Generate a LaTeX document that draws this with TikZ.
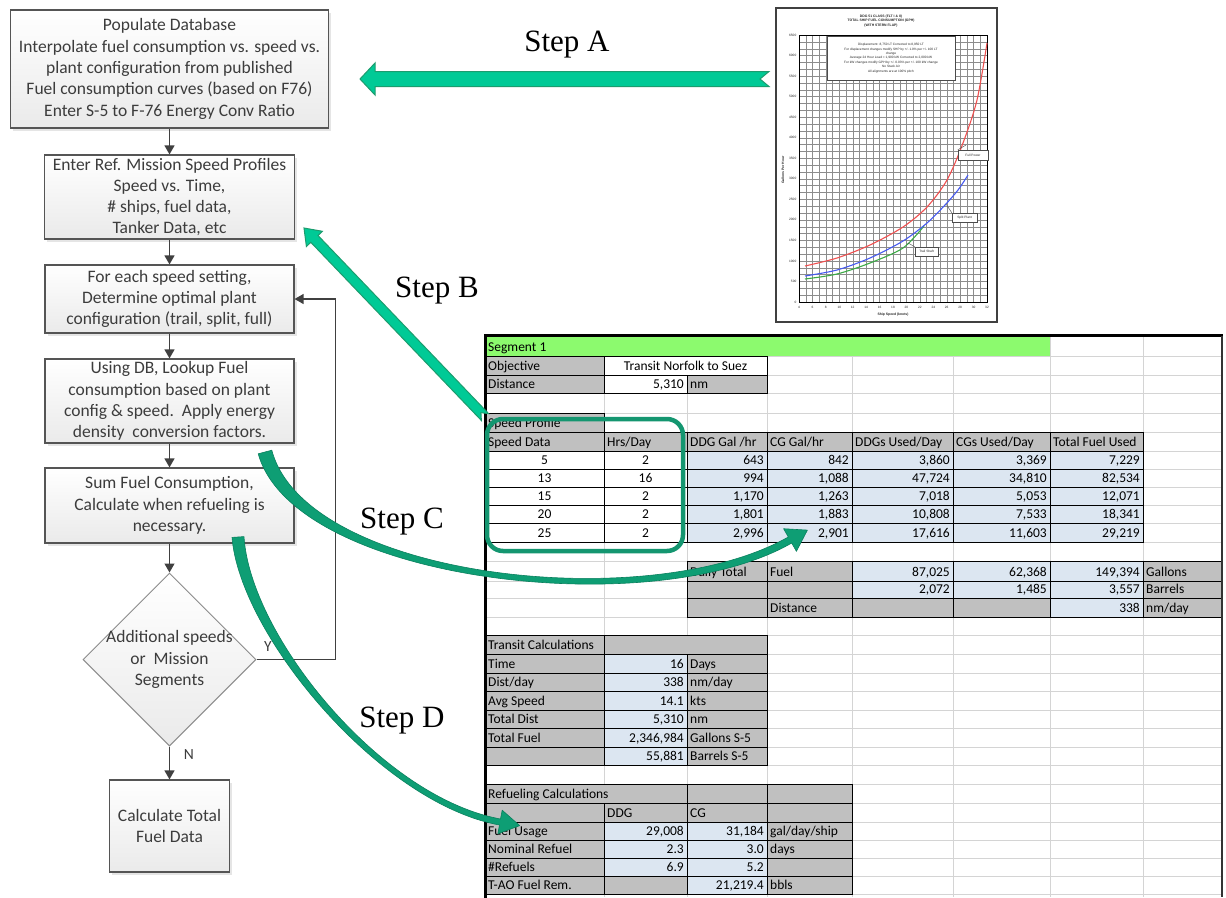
\documentclass[tikz,border=0pt]{standalone}
\usepackage{fontspec}
\setmainfont{Carlito}
\newfontfamily\stepserif{Liberation Serif}
\newfontfamily\chartsans{Liberation Sans}
\usetikzlibrary{arrows.meta,shapes.geometric,shadows}

\definecolor{boxedge}{RGB}{85,85,85}
\definecolor{boxtext}{RGB}{60,60,60}
\definecolor{boxbot}{RGB}{234,234,234}
\definecolor{flowline}{RGB}{64,64,64}
\definecolor{diamedge}{RGB}{140,140,140}
\definecolor{stepfill}{RGB}{0,202,150}
\definecolor{stepedge}{RGB}{28,156,110}
\definecolor{curvefill}{RGB}{14,158,116}
\definecolor{curveedge}{RGB}{10,128,94}
\definecolor{ringcol}{RGB}{20,150,112}
\definecolor{xlgrey}{RGB}{192,192,192}
\definecolor{xlblue}{RGB}{220,230,241}
\definecolor{xlgreen}{RGB}{140,250,110}
\definecolor{xlgrid}{RGB}{212,212,212}
\definecolor{fullred}{RGB}{240,80,80}
\definecolor{splitblue}{RGB}{70,90,240}
\definecolor{trailgreen}{RGB}{60,170,70}

\newcommand\flowfont{\fontsize{17.5}{21.3}\selectfont}
\newcommand\cellfont{\fontsize{13.5}{15}\selectfont}
\newcommand\stepfont{\stepserif\fontsize{31}{36}\selectfont}
\newcommand\charttiny{\chartsans\fontsize{3.2}{4.4}\selectfont}
\newcommand\chartbold{\chartsans\bfseries\fontsize{3.4}{4.6}\selectfont}

% column and row boundaries of the worksheet
\def\colx{{485,604,687,767,852,953,1050,1143,1222}}
\def\rowy{{335,356,375,393,413,432,451,469,487,505,523,542,561,581,598,617,635,654,673,691,710,728,747,765,784,803,822,840,858,876,894}}

% \xcell{name}{first col}{end col}{row}{fill}{l|c|r}{text}
\newcommand\xcell[7]{%
  \pgfmathsetmacro\cxa{\colx[#2]}%
  \pgfmathsetmacro\cxb{\colx[#3]}%
  \pgfmathsetmacro\cya{\rowy[#4-1]}%
  \pgfmathsetmacro\cyb{\rowy[#4]}%
  \filldraw[cellrule,fill=#5] (\cxa,\cya) rectangle (\cxb,\cyb);
  \if#6l\node[celltext,anchor=base west] (#1) at (\cxa+3,\cyb-4.6) {#7};\fi
  \if#6r\node[celltext,anchor=base east] (#1) at (\cxb-3,\cyb-4.6) {#7};\fi
  \if#6c\node[celltext,anchor=base] (#1) at ({(\cxa+\cxb)/2},\cyb-4.6) {#7};\fi
}

\tikzset{
  fbox/.style={draw=boxedge, line width=1.2pt, top color=white, bottom color=boxbot,
    text=boxtext, align=center, inner sep=0pt, font=\flowfont,
    drop shadow={shadow xshift=2.5pt, shadow yshift=-2.5pt, opacity=.2, fill=black!50}},
  flowarrow/.style={draw=flowline, line width=1.3pt, -{Triangle[width=10pt,length=9pt]}},
  flowlabel/.style={text=boxtext, font=\fontsize{15.5}{18}\selectfont, inner sep=0pt},
  celltext/.style={font=\cellfont, inner sep=0pt, text=black},
  cellrule/.style={draw=black, line width=0.8pt},
  gridrule/.style={draw=xlgrid, line width=0.9pt},
  chartgrid/.style={draw=black!45, line width=0.3pt},
  charttext/.style={font=\charttiny, inner sep=0.5pt, text=black!85},
  chartbox/.style={draw=black!70, line width=0.4pt, fill=white, charttext},
  steplabel/.style={font=\stepfont, text=black, inner sep=0pt},
  stepblock/.style={fill=stepfill, draw=stepedge, line width=1pt, line join=miter},
  stepcurve/.style={fill=curvefill, draw=curveedge, line width=0.6pt, line join=round},
}

\begin{document}
\begin{tikzpicture}[x=1pt,y=-1pt]
\useasboundingbox[fill=white] (0,0) rectangle (1226,897);

% ---------------- worksheet ----------------
\foreach \i in {0,...,8}{\pgfmathsetmacro\gx{\colx[\i]}\draw[gridrule] (\gx,335) -- (\gx,897);}
\foreach \i in {0,...,30}{\pgfmathsetmacro\gy{\rowy[\i]}\draw[gridrule] (485,\gy) -- (1222,\gy);}

\fill[xlgreen] (485,335) rectangle (1050,356);
\node[celltext,anchor=base west] (seg) at (488,351.4) {Segment 1};

\xcell{objl}{0}{1}{2}{xlgrey}{l}{Objective}
\xcell{objv}{1}{3}{2}{white}{c}{Transit Norfolk to Suez}
\xcell{distl}{0}{1}{3}{xlgrey}{l}{Distance}
\xcell{distv}{1}{2}{3}{white}{r}{5,310}
\xcell{distu}{2}{3}{3}{xlgrey}{l}{nm}

\xcell{sprof}{0}{1}{5}{xlgrey}{l}{Speed Profile}
\xcell{hA}{0}{1}{6}{xlgrey}{l}{Speed Data}
\xcell{hB}{1}{2}{6}{xlgrey}{l}{Hrs/Day}
\xcell{hC}{2}{3}{6}{xlgrey}{l}{DDG Gal /hr}
\xcell{hD}{3}{4}{6}{xlgrey}{l}{CG Gal/hr}
\xcell{hE}{4}{5}{6}{xlgrey}{l}{DDGs Used/Day}
\xcell{hF}{5}{6}{6}{xlgrey}{l}{CGs Used/Day}
\xcell{hG}{6}{7}{6}{xlgrey}{l}{Total Fuel Used}
\foreach \rr/\va/\vb/\vc/\vd/\ve/\vf/\vg in {
   7/5/2/643/842/{3,860}/{3,369}/{7,229},
   8/13/16/994/{1,088}/{47,724}/{34,810}/{82,534},
   9/15/2/{1,170}/{1,263}/{7,018}/{5,053}/{12,071},
   10/20/2/{1,801}/{1,883}/{10,808}/{7,533}/{18,341},
   11/25/2/{2,996}/{2,901}/{17,616}/{11,603}/{29,219}}{
  \xcell{spd\rr}{0}{1}{\rr}{white}{c}{\va}
  \xcell{hrs\rr}{1}{2}{\rr}{white}{c}{\vb}
  \xcell{ddg\rr}{2}{3}{\rr}{xlblue}{r}{\vc}
  \xcell{cg\rr}{3}{4}{\rr}{xlblue}{r}{\vd}
  \xcell{ddgu\rr}{4}{5}{\rr}{xlblue}{r}{\ve}
  \xcell{cgu\rr}{5}{6}{\rr}{xlblue}{r}{\vf}
  \xcell{tot\rr}{6}{7}{\rr}{xlblue}{r}{\vg}
}

\xcell{dtA}{2}{3}{13}{xlgrey}{l}{Daily Total}
\xcell{dtB}{3}{4}{13}{xlgrey}{l}{Fuel}
\xcell{dtC}{4}{5}{13}{xlblue}{r}{87,025}
\xcell{dtD}{5}{6}{13}{xlblue}{r}{62,368}
\xcell{dtE}{6}{7}{13}{xlblue}{r}{149,394}
\xcell{dtF}{7}{8}{13}{xlgrey}{l}{Gallons}
\xcell{dbA}{2}{3}{14}{xlgrey}{l}{}
\xcell{dbB}{3}{4}{14}{xlgrey}{l}{}
\xcell{dbC}{4}{5}{14}{xlblue}{r}{2,072}
\xcell{dbD}{5}{6}{14}{xlblue}{r}{1,485}
\xcell{dbE}{6}{7}{14}{xlblue}{r}{3,557}
\xcell{dbF}{7}{8}{14}{xlgrey}{l}{Barrels}
\xcell{ddA}{2}{3}{15}{xlgrey}{l}{}
\xcell{ddB}{3}{4}{15}{xlgrey}{l}{Distance}
\xcell{ddC}{4}{5}{15}{xlgrey}{l}{}
\xcell{ddD}{5}{6}{15}{xlgrey}{l}{}
\xcell{ddE}{6}{7}{15}{xlblue}{r}{338}
\xcell{ddF}{7}{8}{15}{xlgrey}{l}{nm/day}

\xcell{trA}{0}{1}{17}{xlgrey}{l}{Transit Calculations}
\xcell{trB}{1}{3}{17}{xlgrey}{l}{}
\foreach \rr/\va/\vb/\vc in {18/Time/16/Days, 19/Dist\slash day/338/nm\slash day,
   20/Avg Speed/14.1/kts, 21/Total Dist/{5,310}/nm, 22/Total Fuel/{2,346,984}/Gallons S-5,
   23//{55,881}/Barrels S-5}{
  \xcell{tl\rr}{0}{1}{\rr}{xlgrey}{l}{\va}
  \xcell{tv\rr}{1}{2}{\rr}{xlblue}{r}{\vb}
  \xcell{tu\rr}{2}{3}{\rr}{xlgrey}{l}{\vc}
}

\xcell{rfA}{0}{2}{25}{xlgrey}{l}{Refueling Calculations}
\xcell{rfC}{2}{3}{25}{xlgrey}{l}{}
\xcell{rfD}{3}{4}{25}{xlgrey}{l}{}
\xcell{rhA}{0}{1}{26}{xlgrey}{l}{}
\xcell{rhB}{1}{2}{26}{xlgrey}{l}{DDG}
\xcell{rhC}{2}{3}{26}{xlgrey}{l}{CG}
\xcell{rhD}{3}{4}{26}{xlgrey}{l}{}
\xcell{fuA}{0}{1}{27}{xlgrey}{l}{Fuel Usage}
\xcell{fuB}{1}{2}{27}{xlblue}{r}{29,008}
\xcell{fuC}{2}{3}{27}{xlblue}{r}{31,184}
\xcell{fuD}{3}{4}{27}{xlgrey}{l}{gal/day/ship}
\xcell{nrA}{0}{1}{28}{xlgrey}{l}{Nominal Refuel}
\xcell{nrB}{1}{2}{28}{xlblue}{r}{2.3}
\xcell{nrC}{2}{3}{28}{xlblue}{r}{3.0}
\xcell{nrD}{3}{4}{28}{xlgrey}{l}{days}
\xcell{nfA}{0}{1}{29}{xlgrey}{l}{\#Refuels}
\xcell{nfB}{1}{2}{29}{xlblue}{r}{6.9}
\xcell{nfC}{2}{3}{29}{xlblue}{r}{5.2}
\xcell{nfD}{3}{4}{29}{xlgrey}{l}{}
\xcell{taA}{0}{1}{30}{xlgrey}{l}{T-AO Fuel Rem.}
\xcell{taB}{1}{2}{30}{xlgrey}{l}{}
\xcell{taC}{2}{3}{30}{xlblue}{r}{21,219.4}
\xcell{taD}{3}{4}{30}{xlgrey}{l}{bbls}

% sheet frame
\draw[line width=2.6pt, black, line cap=rect] (485.5,897) -- (485.5,335.5) -- (1222,335.5);
\draw[line width=2pt, black!80] (1222,335.5) -- (1222,897);

% ring round the speed profile inputs
\draw[ringcol, line width=4.5pt, rounded corners=16pt] (487,419) rectangle (683,551);

% ---------------- fuel consumption chart ----------------
\draw[black!75, line width=1.6pt] (776,8) rectangle (997,322);
\foreach \k in {0,...,28} \draw[chartgrid] ({799+\k*188/28},35) -- ({799+\k*188/28},302);
\foreach \k in {0,...,39} \draw[chartgrid] (799,{302-\k*267/39}) -- (987,{302-\k*267/39});
\draw[black, line width=0.6pt] (799,35) rectangle (987,302);
\foreach \g in {0,500,...,6500}
  \node[charttext, anchor=east] (ytick\g) at (797,{302-\g*0.0410769}) {\g};
\foreach \v in {4,6,...,32}
  \node[charttext] (xtick\v) at ({799+(\v-4)*188/28},307.5) {\v};
\node[charttext, font=\chartbold] (xtitle) at (893,315) {Ship Speed (knots)};
\node[charttext, font=\chartbold, rotate=90] (ytitle) at (783,170) {Gallons Per Hour};
\node[charttext, font=\chartbold, align=center] (ctitle) at (881,21)
  {DDG 51 CLASS (FLT I \& II)\\TOTAL SHIP FUEL CONSUMPTION (GPH)\\(WITH STERN FLAP)};

\draw[trailgreen, line width=1.1pt] plot[smooth] coordinates
  {(805,279) (837,274) (870,263) (903,248) (924,226)};
\draw[splitblue, line width=1.1pt] plot[smooth] coordinates
  {(805,276) (837,270) (870,258) (903,241) (927,223) (945,205) (958,190) (968,175)};
\draw[fullred, line width=1.1pt] plot[smooth] coordinates
  {(805,266) (837,258) (870,245) (903,227) (927,207) (947,180) (963,143) (977,100) (987,43)};

\node[chartbox, align=center, minimum width=128pt, minimum height=44pt] (legend) at (891,58)
  {Displacement: 8,750 LT Corrected to 8,950 LT\\
   For displacement changes modify SHP by +/- 1.0\% per +/- 100 LT\\
   change\\
   Average 24 Hour Load = 1,900 kW Corrected to 2,000 kW\\
   For kW changes modify GPH by +/- 0.03\% per +/- 100 kW change\\
   No Stack Air\\
   All alignments are at 100\% pitch};
\node[chartbox, minimum width=30pt, minimum height=10pt] (fplab) at (973,155) {Full Power};
\node[chartbox, minimum width=25pt, minimum height=9pt] (splab) at (964.5,217.5) {Split Plant};
\node[chartbox, minimum width=23pt, minimum height=9pt] (tslab) at (926.5,251.5) {Trail Shaft};
\draw[black!70, line width=0.4pt] (fplab.north west) -- (966,145);
\draw[black!70, line width=0.4pt] (splab.north west) -- (946,204);
\draw[black!70, line width=0.4pt] (tslab.north west) -- (908,243);

% ---------------- flowchart ----------------
\node[fbox, minimum width=318pt, minimum height=118pt] (pop) at (169.5,69)
  {Populate Database\\Interpolate fuel consumption vs. speed vs.\\plant configuration from published\\Fuel consumption curves (based on F76)\\Enter S-5 to F-76 Energy Conv Ratio};
\node[fbox, minimum width=250pt, minimum height=84pt] (ref) at (169.5,197)
  {Enter Ref. Mission Speed Profiles\\Speed vs. Time,\\\# ships, fuel data,\\Tanker Data, etc};
\node[fbox, minimum width=249pt, minimum height=68pt] (setting) at (169.5,299)
  {For each speed setting,\\Determine optimal plant\\configuration (trail, split, full)};
\node[fbox, minimum width=249pt, minimum height=84pt] (lookup) at (169.5,401)
  {Using DB, Lookup Fuel\\consumption based on plant\\config \& speed.\ \ Apply energy\\density\ \ conversion factors.};
\node[fbox, minimum width=249pt, minimum height=75pt] (sumfuel) at (169.5,505.5)
  {Sum Fuel Consumption,\\Calculate when refueling is\\necessary.};
\node[diamond, aspect=1, draw=diamedge, line width=1pt, top color=white, bottom color=boxbot,
  minimum width=173pt, minimum height=173pt, inner sep=0pt] (more) at (169.5,659.5) {};
\node[text=boxtext, font=\flowfont, align=center, inner sep=0pt] (moretext) at (more.center)
  {Additional speeds\\or\ \ Mission\\Segments};
\node[fbox, minimum width=120pt, minimum height=92pt] (total) at (169.5,826)
  {Calculate Total\\Fuel Data};

\draw[flowarrow] (pop.south) -- (ref.north);
\draw[flowarrow] (ref.south) -- (setting.north);
\draw[flowarrow] (setting.south) -- (lookup.north);
\draw[flowarrow] (lookup.south) -- (sumfuel.north);
\draw[flowarrow] (sumfuel.south) -- (more.north);
\draw[flowarrow] (more.south) -- (total.north);
\draw[flowarrow] (more.east) -- ++(79,0) |- (setting.east);
\node[flowlabel] (nlab) at (189,755) {N};
\node[flowlabel] (ylab) at (268,647) {Y};

% ---------------- step arrows and labels ----------------
\coordinate (aTip) at (360,79);
\filldraw[stepblock] (aTip) -- ++(15,-16) -- ++(0,8.5) -- ++(394,0) -- ++(-9,7.5) -- ++(9,7.5)
  -- ++(-394,0) -- ++(0,8.5) -- cycle;
\node[steplabel, anchor=base] (stepA) at (567,51) {Step A};

\coordinate (bTip) at (304,228);
\filldraw[stepblock] (bTip) -- (322.4,231.3) -- (318.0,235.5) -- (488.6,413.6)
  -- (480.9,412.7) -- (481.4,420.5) -- (310.8,242.3) -- (306.4,246.5) -- cycle;
\node[steplabel, anchor=base] (stepB) at (437,297) {Step B};

\filldraw[stepcurve] (258.2,453.8) .. controls (294.2,581.6) and (652,623.5) .. (791.7,543)
  -- (796.4,551.3) -- (807.4,530.1) -- (783.6,528.7) -- (788.3,537)
  .. controls (648,616.5) and (305.8,578.4) .. (271.8,450.2) -- cycle;
\node[steplabel, anchor=base] (stepC) at (402,528) {Step C};

\filldraw[stepcurve] (232,537.4) .. controls (240,634.9) and (379.5,803) .. (499.5,825)
  -- (497.8,833.8) -- (519.7,825.6) -- (502.2,810.2) -- (500.5,819)
  .. controls (380.5,797) and (250,635.1) .. (244,536.6) -- cycle;
\node[steplabel, anchor=base] (stepD) at (402,727) {Step D};
\end{tikzpicture}
\end{document}
